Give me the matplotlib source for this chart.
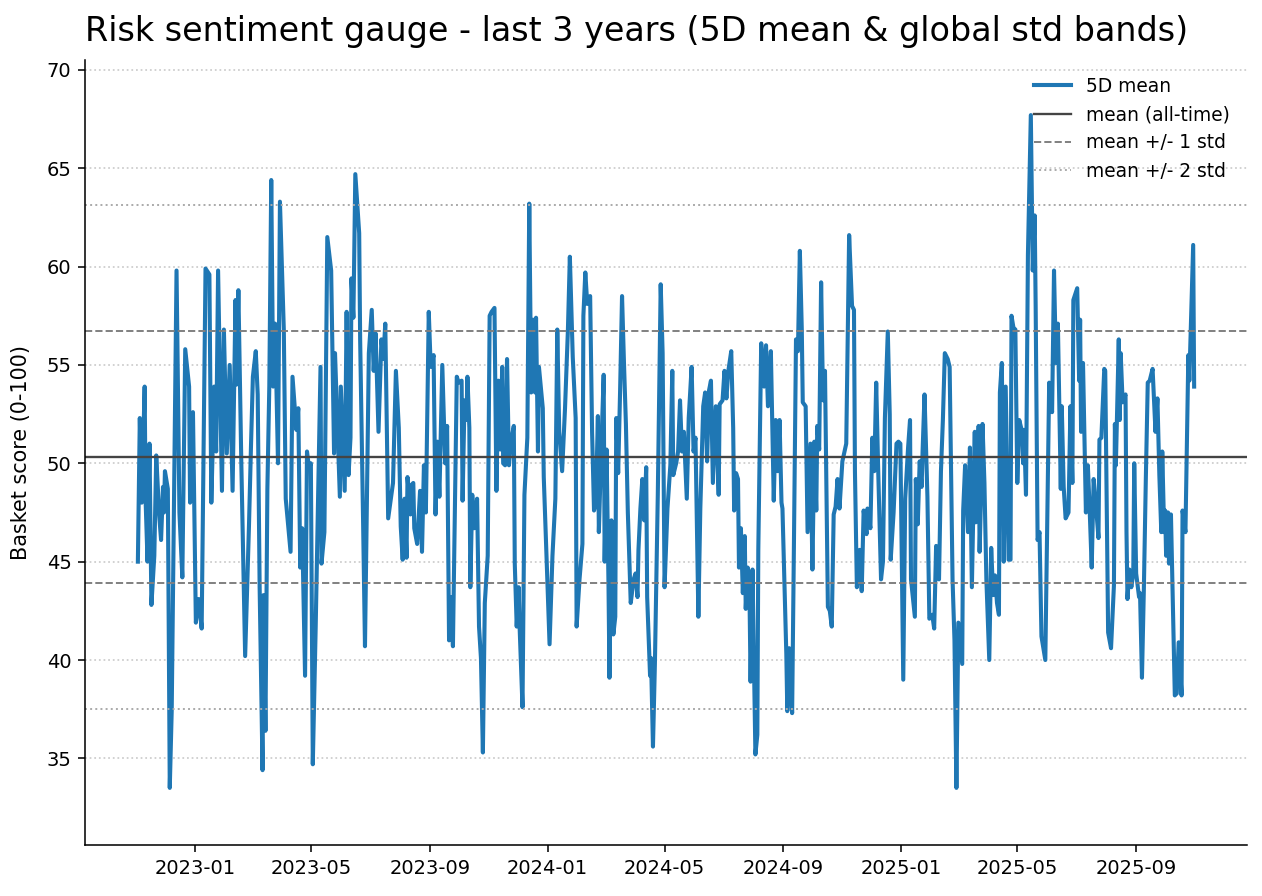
import matplotlib
matplotlib.use("Agg")
import matplotlib.pyplot as plt
import matplotlib.dates as mdates
import numpy as np
import pandas as pd

# 5D mean of the basket score (days since start, value)
start = pd.Timestamp("2022-11-03")
days = [
    0, 2, 4, 7, 8, 10, 12, 14, 17, 19, 22, 24, 26, 27, 28, 31, 33, 35, 40, 43,
    46, 49, 53, 54, 57, 60, 63, 66, 70, 74, 76, 79, 81, 83, 87, 89, 92, 95, 98, 101,
    102, 104, 107, 111, 115, 117, 119, 122, 124, 126, 129, 130, 132, 134, 136, 138, 140, 142, 145, 147,
    151, 153, 158, 160, 164, 166, 168, 170, 173, 175, 177, 179, 181, 184, 189, 190, 193, 196, 200, 203,
    204, 209, 210, 214, 216, 218, 220, 221, 223, 225, 229, 230, 233, 235, 236, 239, 242, 244, 246, 249,
    252, 254, 256, 259, 264, 267, 270, 272, 274, 276, 278, 279, 282, 283, 285, 286, 289, 292, 294, 296,
    298, 301, 303, 306, 308, 310, 312, 315, 318, 320, 322, 324, 326, 330, 332, 335, 336, 338, 340, 341,
    343, 344, 346, 348, 351, 353, 355, 357, 359, 362, 364, 366, 369, 371, 373, 375, 377, 378, 380, 382,
    384, 386, 389, 390, 392, 394, 395, 398, 400, 403, 405, 407, 409, 411, 412, 414, 415, 419, 420, 422,
    426, 429, 432, 434, 436, 439, 442, 445, 447, 450, 453, 454, 457, 460, 461, 463, 465, 468, 470, 472,
    474, 476, 477, 479, 482, 483, 485, 487, 488, 490, 492, 494, 495, 497, 499, 501, 503, 505, 507, 510,
    513, 515, 517, 518, 520, 522, 524, 526, 527, 530, 531, 533, 535, 538, 541, 543, 545, 548, 551, 553,
    554, 557, 559, 561, 563, 565, 568, 570, 573, 575, 577, 580, 582, 585, 587, 589, 591, 593, 595, 598,
    601, 602, 605, 607, 609, 611, 614, 616, 617, 619, 621, 622, 624, 626, 628, 629, 631, 633, 634, 636,
    639, 641, 642, 645, 648, 650, 652, 655, 658, 660, 662, 664, 666, 667, 671, 672, 674, 677, 679, 681,
    683, 685, 687, 688, 691, 693, 696, 698, 700, 702, 703, 705, 707, 709, 711, 714, 716, 718, 720, 722,
    724, 726, 729, 733, 736, 739, 741, 742, 744, 747, 749, 751, 754, 755, 758, 760, 762, 764, 766, 769,
    771, 773, 776, 778, 779, 782, 785, 787, 789, 791, 792, 794, 797, 799, 800, 804, 805, 807, 809, 811,
    812, 814, 817, 819, 822, 824, 826, 829, 831, 833, 835, 838, 840, 843, 845, 847, 849, 853, 854, 856,
    859, 861, 863, 866, 867, 870, 871, 873, 874, 876, 878, 881, 883, 885, 887, 889, 891, 892, 894, 896,
    898, 901, 903, 904, 906, 908, 910, 912, 915, 916, 917, 919, 921, 924, 926, 928, 929, 931, 933, 935,
    939, 943, 946, 948, 950, 952, 955, 956, 958, 960, 963, 965, 967, 968, 972, 974, 975, 976, 978, 981,
    983, 985, 987, 989, 991, 994, 995, 997, 1000, 1001, 1004, 1007, 1010, 1011, 1012, 1015, 1016, 1017, 1019, 1022,
    1023, 1024, 1026, 1028, 1030, 1031, 1033, 1036, 1037, 1039, 1041, 1043, 1045, 1047, 1050, 1051, 1053, 1055, 1057, 1059,
    1060, 1062, 1063, 1064, 1066, 1067, 1069, 1071, 1073, 1075, 1077, 1080, 1081, 1084, 1085, 1087, 1088, 1092, 1093,
]
score = [
    45.0, 52.3, 48.0, 53.9, 48.1, 45.0, 51.0, 42.8, 45.3, 50.4, 47.4, 46.1, 48.8, 47.5, 49.6, 48.7, 33.5, 37.4, 59.8, 47.5,
    44.2, 55.8, 53.9, 48.0, 52.6, 41.9, 43.1, 41.6, 59.9, 59.6, 48.0, 53.9, 50.6, 59.8, 48.6, 56.8, 50.5, 55.0, 48.6, 58.3,
    54.0, 58.8, 50.1, 40.2, 46.9, 50.8, 54.4, 55.7, 53.5, 43.7, 34.4, 43.3, 36.4, 48.7, 53.9, 64.4, 53.9, 57.1, 50.0, 63.3,
    56.8, 48.2, 45.5, 54.4, 51.7, 52.8, 44.7, 46.7, 39.2, 50.6, 49.8, 50.0, 34.7, 41.7, 54.9, 44.9, 46.5, 61.5, 59.8, 50.5,
    55.6, 48.3, 53.9, 48.6, 57.7, 49.4, 51.3, 59.4, 57.4, 64.7, 61.7, 56.3, 47.2, 40.7, 44.5, 55.6, 57.8, 54.7, 56.6, 51.6,
    56.3, 55.3, 57.1, 47.2, 49.0, 54.7, 51.8, 46.8, 45.1, 48.2, 45.2, 49.3, 47.4, 48.9, 49.0, 46.7, 45.9, 48.6, 45.5, 49.9,
    47.5, 57.7, 54.9, 55.5, 47.4, 51.1, 48.3, 55.0, 50.0, 51.9, 41.0, 43.2, 40.7, 54.4, 54.1, 54.2, 48.1, 53.2, 52.2, 54.4,
    51.8, 43.7, 48.4, 46.7, 48.2, 41.7, 40.1, 35.3, 42.9, 45.3, 57.5, 57.7, 57.9, 48.6, 54.2, 50.7, 54.9, 50.0, 49.9, 55.3,
    49.9, 51.1, 51.9, 44.9, 41.7, 43.7, 41.7, 37.6, 48.4, 51.3, 63.2, 53.6, 57.3, 53.6, 57.4, 50.6, 54.9, 52.8, 49.3, 46.5,
    40.8, 45.3, 48.2, 56.8, 51.6, 49.6, 52.8, 56.8, 60.5, 55.4, 52.3, 41.7, 44.1, 45.9, 57.5, 59.7, 58.1, 58.5, 51.6, 47.6,
    48.0, 52.4, 46.5, 49.9, 54.5, 45.0, 50.7, 43.8, 39.1, 47.1, 41.3, 42.2, 52.3, 49.5, 53.7, 58.5, 55.1, 52.0, 47.5, 42.9,
    44.1, 44.4, 43.2, 45.6, 47.7, 49.2, 47.1, 49.8, 43.2, 39.2, 40.1, 35.6, 39.8, 48.4, 59.1, 55.6, 43.7, 47.7, 49.9, 54.7,
    49.4, 50.0, 50.6, 53.2, 50.6, 51.6, 48.2, 52.3, 54.9, 50.6, 51.3, 42.2, 47.7, 52.9, 53.6, 50.1, 53.7, 54.2, 49.0, 52.9,
    48.4, 53.0, 53.2, 54.7, 53.3, 54.7, 55.7, 51.8, 47.6, 49.5, 49.2, 44.7, 46.7, 43.4, 46.3, 42.6, 44.7, 42.9, 38.9, 44.6,
    35.2, 36.2, 45.6, 56.1, 53.9, 56.0, 52.9, 55.7, 48.1, 52.2, 49.6, 52.2, 48.0, 47.7, 40.3, 37.4, 40.6, 37.3, 46.5, 56.3,
    55.7, 60.8, 56.8, 53.1, 52.9, 46.5, 51.0, 44.6, 51.1, 47.6, 51.9, 50.7, 59.2, 53.2, 54.7, 42.7, 42.5, 41.7, 47.4, 47.8,
    49.2, 47.7, 50.1, 51.0, 61.6, 58.0, 57.8, 49.6, 43.7, 45.6, 43.5, 47.6, 46.4, 47.7, 46.7, 51.3, 49.6, 54.1, 49.8, 44.1,
    45.0, 52.3, 56.7, 52.5, 45.1, 47.5, 51.0, 51.1, 51.0, 42.9, 39.0, 48.2, 50.8, 52.2, 44.1, 42.2, 49.2, 46.9, 50.1, 48.8,
    50.6, 53.5, 48.3, 42.1, 42.3, 41.6, 45.8, 44.1, 49.6, 52.2, 55.6, 55.3, 54.9, 44.1, 41.0, 33.5, 41.9, 39.8, 47.6, 49.9,
    46.5, 50.8, 43.7, 51.6, 47.0, 51.9, 45.5, 49.4, 52.0, 49.0, 44.1, 40.0, 45.7, 43.3, 44.3, 42.9, 42.3, 53.6, 55.1, 45.0,
    53.9, 45.1, 45.1, 57.5, 56.9, 56.8, 49.0, 52.2, 51.6, 50.0, 51.7, 48.4, 60.6, 67.7, 59.8, 62.6, 58.0, 46.1, 46.5, 41.2,
    40.0, 54.1, 52.6, 59.8, 55.1, 57.1, 48.7, 52.9, 48.8, 47.2, 47.5, 52.9, 49.0, 58.3, 58.9, 54.2, 57.3, 51.6, 55.1, 47.5,
    49.9, 47.5, 44.7, 49.2, 48.1, 46.2, 51.2, 51.3, 54.8, 54.7, 41.4, 40.6, 43.8, 52.0, 49.9, 56.3, 52.2, 55.6, 53.1, 53.5,
    46.5, 43.1, 44.6, 43.7, 44.4, 50.0, 44.4, 43.2, 43.4, 39.1, 43.7, 49.2, 54.1, 54.2, 54.8, 53.7, 51.6, 53.3, 49.4, 46.5,
    50.6, 46.5, 47.6, 45.3, 47.5, 44.9, 47.4, 42.7, 38.2, 38.3, 40.9, 38.2, 47.6, 46.5, 49.6, 55.5, 54.2, 61.1, 53.9,
]

# all-time statistics of the score
mean_all = 50.33
std_all = 6.41

dates = start + pd.to_timedelta(days, unit="D")

fig, ax = plt.subplots(figsize=(9.015, 6.4), dpi=140)

ax.plot(dates, score, color="tab:blue", lw=2.1, label="5D mean")
ax.axhline(mean_all, color="#444444", lw=1.2, label="mean (all-time)")
ax.axhline(mean_all + std_all, color="gray", lw=1.0, ls="--", label="mean +/- 1 std")
ax.axhline(mean_all - std_all, color="gray", lw=1.0, ls="--")
ax.axhline(mean_all + 2 * std_all, color="#aaaaaa", lw=1.0, ls=":", label="mean +/- 2 std")
ax.axhline(mean_all - 2 * std_all, color="#aaaaaa", lw=1.0, ls=":")

ax.set_title("Risk sentiment gauge - last 3 years (5D mean & global std bands)",
             fontsize=17.2, loc="left", pad=10)
ax.set_ylabel("Basket score (0-100)", fontsize=10.7, labelpad=8)
ax.set_ylim(30.6, 70.5)
ax.set_yticks(np.arange(35, 71, 5))
ax.xaxis.set_major_locator(mdates.MonthLocator(bymonth=[1, 5, 9]))
ax.xaxis.set_major_formatter(mdates.DateFormatter("%Y-%m"))
ax.grid(axis="y", ls=":", color="#cccccc", lw=0.9)
ax.spines["top"].set_visible(False)
ax.spines["right"].set_visible(False)
ax.legend(loc="upper right", frameon=False, fontsize=9.6)

fig.subplots_adjust(left=0.0674, right=0.988, top=0.933, bottom=0.057)
fig.savefig("out.png")
